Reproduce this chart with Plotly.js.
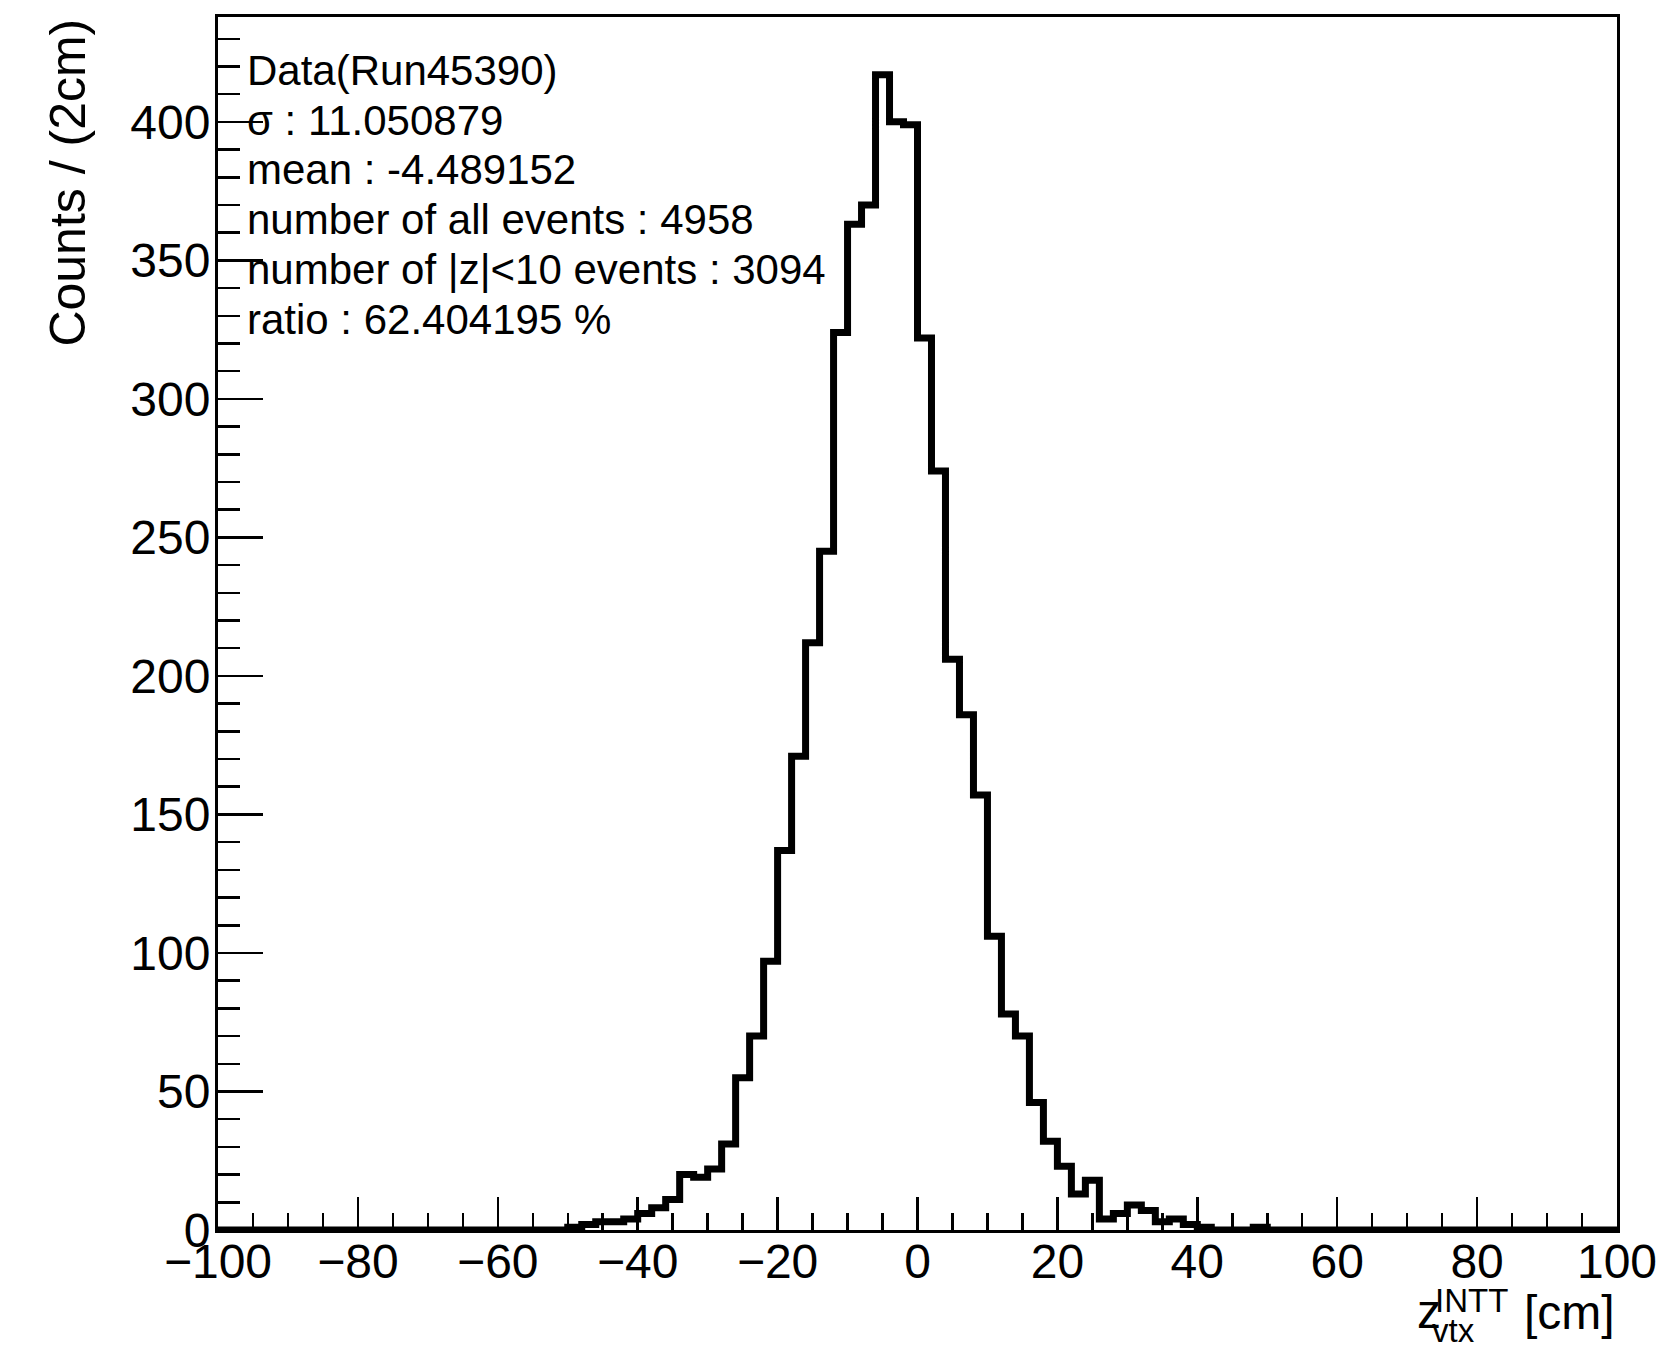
<!DOCTYPE html>
<html>
<head>
<meta charset="utf-8">
<script src="https://cdn.plot.ly/plotly-3.0.1.min.js"></script>
<style>
  html, body { margin: 0; padding: 0; background: #ffffff; }
  #chart { width: 1671px; height: 1346px; }
</style>
</head>
<body>
<div id="chart"></div>
<script>
// Histogram definition: 100 bins of 2 cm from -100 to 100 cm
const histMin = -100;
const binWidth = 2;
const counts = [
  0, 0, 0, 0, 0, 0, 0, 0, 0, 0,          // -100 .. -82
  0, 0, 0, 0, 0, 0, 0, 0, 0, 0,          // -80 .. -62
  0, 0, 0, 0, 0, 1, 2, 3, 3, 4,          // -60 .. -42
  6, 8, 11, 20, 19, 22, 31, 55, 70, 97,  // -40 .. -22
  137, 171, 212, 245, 324, 363, 370, 417, 400, 399, // -20 .. -2
  322, 274, 206, 186, 157, 106, 78, 70, 46, 32,     // 0 .. 18
  23, 13, 18, 4, 6, 9, 7, 3, 4, 2,       // 20 .. 38
  1, 0, 0, 0, 1, 0, 0, 0, 0, 0,          // 40 .. 58
  0, 0, 0, 0, 0, 0, 0, 0, 0, 0,          // 60 .. 78
  0, 0, 0, 0, 0, 0, 0, 0, 0, 0           // 80 .. 98
];
const statLines = [
  "Data(Run45390)",
  "σ : 11.050879",
  "mean : -4.489152",
  "number of all events : 4958",
  "number of |z|<10 events : 3094",
  "ratio : 62.404195 %"
];
const yTitle = "Counts / (2cm)";

const edges = counts.map((c, i) => histMin + i * binWidth);
edges.push(histMin + counts.length * binWidth);
const yStep = counts.concat([counts[counts.length - 1]]);

const FONT = "Liberation Sans, Arial, Helvetica, sans-serif";

const trace = {
  x: edges,
  y: yStep,
  type: "scatter",
  mode: "lines",
  line: { shape: "hv", color: "#000000", width: 7 },
  hoverinfo: "skip",
  showlegend: false
};

const statY = [0.9557, 0.9145, 0.8740, 0.8327, 0.7915, 0.7503];
const annotations = statLines.map((t, i) => ({
  text: t, xref: "paper", yref: "paper", x: 0.019, y: statY[i],
  xanchor: "left", yanchor: "middle", showarrow: false,
  font: { family: FONT, size: 42, color: "#000" }
}));

annotations.push({
  text: yTitle, xref: "paper", yref: "paper", x: -0.1075, y: 1.0,
  xanchor: "center", yanchor: "top", textangle: -90, showarrow: false,
  font: { family: FONT, size: 50, color: "#000" }
});
// x-axis title: z with stacked sub/superscript, right aligned
annotations.push({
  text: "z", xref: "paper", yref: "paper", x: 0.8556, y: -0.0672,
  xanchor: "left", yanchor: "middle", showarrow: false,
  font: { family: FONT, size: 48, color: "#000" }
});
annotations.push({
  text: "INTT", xref: "paper", yref: "paper", x: 0.8685, y: -0.0580,
  xanchor: "left", yanchor: "middle", showarrow: false,
  font: { family: FONT, size: 33, color: "#000" }
});
annotations.push({
  text: "vtx", xref: "paper", yref: "paper", x: 0.8663, y: -0.0825,
  xanchor: "left", yanchor: "middle", showarrow: false,
  font: { family: FONT, size: 33, color: "#000" }
});
annotations.push({
  text: "[cm]", xref: "paper", yref: "paper", x: 1.0, y: -0.0680,
  xanchor: "right", yanchor: "middle", showarrow: false,
  font: { family: FONT, size: 48, color: "#000" }
});

const layout = {
  width: 1671,
  height: 1346,
  margin: { l: 218, r: 54, t: 17, b: 116, pad: 0 },
  paper_bgcolor: "#ffffff",
  plot_bgcolor: "#ffffff",
  font: { family: FONT, size: 48, color: "#000" },
  showlegend: false,
  xaxis: {
    range: [-100, 100],
    dtick: 20, tick0: 0,
    ticks: "inside", ticklen: 33, tickwidth: 2.5, tickcolor: "#000",
    ticklabelstandoff: -13,
    minor: { dtick: 5, ticks: "inside", ticklen: 17, tickwidth: 2.5, tickcolor: "#000", showgrid: false },
    showline: true, linecolor: "#000", linewidth: 3, mirror: true,
    showgrid: false, zeroline: false,
    tickfont: { family: FONT, size: 48, color: "#000" }
  },
  yaxis: {
    range: [0, Math.max(...counts) * 1.05],
    dtick: 50, tick0: 0,
    ticks: "inside", ticklen: 45, tickwidth: 2.5, tickcolor: "#000",
    ticklabelstandoff: -5,
    minor: { dtick: 10, ticks: "inside", ticklen: 22, tickwidth: 2.5, tickcolor: "#000", showgrid: false },
    showline: true, linecolor: "#000", linewidth: 3, mirror: true,
    showgrid: false, zeroline: false,
    tickfont: { family: FONT, size: 48, color: "#000" }
  },
  annotations: annotations
};

Plotly.newPlot("chart", [trace], layout, { staticPlot: true, displayModeBar: false });
</script>
</body>
</html>
